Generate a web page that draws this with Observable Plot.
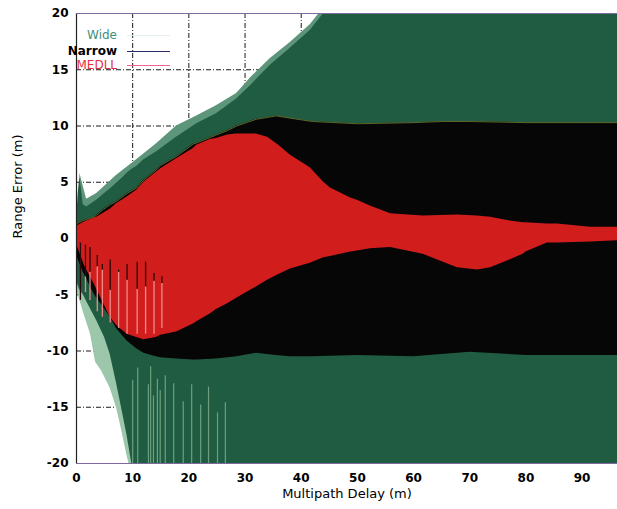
<!DOCTYPE html>
<html>
<head>
<meta charset="utf-8">
<script src="https://cdn.jsdelivr.net/npm/d3@7"></script>
<script src="https://cdn.jsdelivr.net/npm/@observablehq/plot@0.6"></script>
<style>
  html, body { margin: 0; padding: 0; background: #fff; }
  #wrap { position: relative; width: 617px; height: 509px; overflow: hidden; }
  .leg { position: absolute; font-family: "DejaVu Sans", sans-serif; font-size: 12px; font-weight: bold; line-height: 14px; }
  .legline { position: absolute; height: 0; border-top: 1.5px solid; }
</style>
</head>
<body>
<div id="wrap"></div>
<script>
// ---- data ----
const xTicks = [0, 10, 20, 30, 40, 50, 60, 70, 80, 90];
const yTicks = [-20, -15, -10, -5, 0, 5, 10, 15, 20];

// Wide correlator (green) error envelope
const wideX  = [0, 0.3, 0.6, 1.2, 1.8, 3.6, 5.0, 6.0, 7.1, 8.4, 9.0, 10.0, 10.7, 12.0, 14.2, 17.8, 21.4, 24.9, 28.5, 31.0, 34.5, 38.0, 41.6, 44.8, 50, 60, 70, 80, 90, 96.3];
const wideHi = [1.5, 4.0, 5.5, 3.0, 2.8, 3.4, 4.0, 4.4, 4.9, 5.5, 5.8, 6.2, 6.4, 7.0, 7.7, 9.0, 10.2, 11.1, 12.4, 13.6, 15.4, 16.9, 18.5, 20.5, 21, 21, 21, 21, 21, 21];
const wideLo = [-3.8, -4.2, -4.6, -5.0, -5.6, -7.3, -8.8, -10.3, -12.8, -16.0, -17.5, -20.5, -21, -21, -21, -21, -21, -21, -21, -21, -21, -21, -21, -21, -21, -21, -21, -21, -21, -21];
// lighter jagged fringe above the Wide envelope
const wideTopFringeX  = [0.6, 1.8, 3.6, 7.1, 10.7, 14.2, 17.8, 21.4, 24.9, 28.5, 31.0, 34.5, 38.0, 41.6, 44.0, 45];
const wideTopFringeHi = [5.8, 3.5, 4.0, 5.6, 7.0, 8.4, 10.0, 10.9, 11.8, 12.9, 14.3, 16.0, 17.4, 19.0, 20.5, 21];
// lighter outer fringe of the Wide envelope (lower left)
const wideFringeX  = [0, 1.2, 2.5, 3.4, 4.5, 6.0, 7.1, 7.8, 9.0, 9.8, 11, 96.3];
const wideFringeLo = [-4.5, -6.5, -8.5, -11.0, -11.8, -13.3, -15.0, -16.5, -19.3, -21, -21, -21];
// light streaks inside the dark green block: x, top of streak
const streakX   = [10.0, 10.9, 12.8, 13.2, 13.7, 14.4, 14.9, 15.8, 17.3, 19.0, 20.5, 22.1, 23.5, 25.1, 26.5];
const streakTop = [-12.6, -11.5, -13.0, -11.4, -14.0, -12.5, -13.5, -12.2, -12.9, -14.5, -13.0, -14.8, -13.2, -15.5, -14.6];

// Narrow correlator (black) error envelope
const narrowX  = [0, 1.2, 3.1, 3.6, 4.8, 6.0, 7.1, 9.0, 10.7, 12.0, 14.2, 15.0, 17.8, 20.8, 21.4, 24.9, 26.9, 28.5, 32.0, 35.6, 38.0, 42.0, 50, 60, 65, 70, 80, 90, 96.3];
const narrowHi = [1.3, 1.6, 1.9, 2.1, 2.6, 3.0, 3.3, 4.0, 4.5, 5.2, 6.1, 6.5, 7.3, 8.4, 8.5, 9.2, 9.6, 10.0, 10.6, 10.9, 10.7, 10.4, 10.2, 10.3, 10.4, 10.4, 10.3, 10.3, 10.3];
const narrowLo = [-1.5, -3.0, -4.9, -5.3, -6.1, -7.0, -8.0, -9.1, -9.8, -10.2, -10.5, -10.6, -10.7, -10.8, -10.8, -10.7, -10.6, -10.5, -10.2, -10.4, -10.5, -10.5, -10.4, -10.5, -10.3, -10.1, -10.4, -10.4, -10.4];

// MEDLL (red) error envelope
const medllX  = [0, 1.5, 3.1, 3.6, 6.0, 7.1, 9.0, 10.7, 12.0, 14.2, 15.0, 17.8, 20.8, 21.4, 23.8, 24.9, 26.9, 28.5, 32.0, 34.0, 36.0, 38.1, 41.6, 44.0, 45.2, 48.8, 50.0, 52.3, 55.9, 61.7, 67.8, 71.4, 73.7, 76.7, 79.5, 80.0, 83.8, 85.6, 91.5, 96.3];
const medllHi = [1.1, 1.5, 1.8, 1.9, 2.6, 3.1, 3.7, 4.3, 5.0, 5.9, 6.2, 7.1, 8.0, 8.3, 8.8, 8.9, 9.2, 9.3, 9.3, 9.0, 8.3, 7.4, 6.3, 5.0, 4.5, 3.6, 3.4, 2.9, 2.2, 2.0, 2.1, 2.0, 1.9, 1.6, 1.4, 1.4, 1.3, 1.3, 1.0, 1.0];
const medllLo = [-0.5, -2.5, -4.0, -4.5, -7.0, -7.7, -8.5, -8.8, -9.0, -8.8, -8.6, -8.3, -7.6, -7.4, -6.7, -6.3, -5.8, -5.3, -4.3, -3.7, -3.2, -2.7, -2.2, -1.7, -1.6, -1.2, -1.1, -0.9, -0.8, -1.4, -2.6, -2.8, -2.6, -2.0, -1.4, -1.2, -0.4, -0.4, -0.3, -0.2];
// dark / pink spikes running down through the red band at short delays
const spikeX   = [0.7, 1.6, 2.4, 3.7, 4.6, 6.0, 7.5, 9.0, 10.8, 12.3, 13.8, 15.2];
const spikeTop = [-0.4, -0.6, -0.8, -1.5, -2.3, -1.9, -2.8, -2.3, -2.1, -2.1, -3.1, -3.4];
const spikeMid = [-5.5, -3.4, -3.0, -2.5, -2.8, -4.6, -3.0, -3.7, -4.5, -4.3, -3.8, -4.0];
const spikeEnd = [-4.5, -4.8, -5.5, -6.5, -7.0, -7.5, -8.0, -8.5, -8.5, -8.5, -8.5, -8.0];

const seriesNames = ["Wide", "Narrow", "MEDLL"];
const xTitle = "Multipath Delay (m)";
const yTitle = "Range Error (m)";

// ---- build tables ----
const wide = wideX.map((x, i) => ({x, lo: wideLo[i], hi: wideHi[i]}));
const topFringe = wideTopFringeX.map((x, i) => ({x, hi: wideTopFringeHi[i]}));
const fringe = wideFringeX.map((x, i) => ({x, lo: wideFringeLo[i]}));
const streaks = streakX.map((x, i) => ({x, top: streakTop[i]}));
const narrow = narrowX.map((x, i) => ({x, lo: narrowLo[i], hi: narrowHi[i]}));
const medll = medllX.map((x, i) => ({x, lo: medllLo[i], hi: medllHi[i]}));
const spikes = spikeX.map((x, i) => ({x, top: spikeTop[i], mid: spikeMid[i], end: spikeEnd[i]}));

const GREEN = "#1f5c42", LIGHTGREEN = "#9cc7aa", BLACK = "#060606", RED = "#d21d1d";

const chart = Plot.plot({
  width: 617,
  height: 509,
  marginLeft: 76,
  marginRight: 0,
  marginTop: 13,
  marginBottom: 46,
  x: {domain: [0, 96.3]},
  y: {domain: [-20, 20]},
  style: {fontFamily: "DejaVu Sans, sans-serif", fontSize: "12px", fontWeight: "bold", color: "#000", background: "#fff", overflow: "visible"},
  marks: [
    Plot.gridX(xTicks.filter(d => d > 0), {stroke: "#000", strokeOpacity: 0.9, strokeDasharray: "5,2,1,2"}),
    Plot.gridY(yTicks.filter(d => d > -20 && d < 20), {stroke: "#000", strokeOpacity: 0.9, strokeDasharray: "5,2,1,2"}),
    Plot.areaY(fringe, {x: "x", y1: 0, y2: "lo", fill: LIGHTGREEN, clip: true}),
    Plot.areaY(topFringe, {x: "x", y1: 0, y2: "hi", fill: "#5d957a", clip: true}),
    Plot.areaY(wide, {x: "x", y1: "lo", y2: "hi", fill: GREEN, clip: true}),
    Plot.ruleX(streaks, {x: "x", y1: "top", y2: -20, stroke: "#7fb08e", strokeWidth: 1.2, strokeOpacity: 0.8, clip: true}),
    Plot.areaY(narrow, {x: "x", y1: "lo", y2: "hi", fill: BLACK, clip: true}),
    Plot.lineY(narrow, {x: "x", y: "hi", stroke: "#8f9a3a", strokeWidth: 0.8, strokeOpacity: 0.8, clip: true}),
    Plot.areaY(medll, {x: "x", y1: "lo", y2: "hi", fill: RED, clip: true}),
    Plot.ruleX(spikes, {x: "x", y1: "mid", y2: "end", stroke: "#ee8c8c", strokeWidth: 1.3, clip: true}),
    Plot.ruleX(spikes, {x: "x", y1: "top", y2: "mid", stroke: "#2a0a0a", strokeWidth: 1.3, clip: true}),
    Plot.ruleX([0], {stroke: "#222", strokeWidth: 1.2}),
    Plot.ruleY([20, -20], {stroke: "#7d6aa0", strokeWidth: 1.2}),
    Plot.axisX({ticks: xTicks, tickSize: 0, tickPadding: 10, label: null, tickFormat: d => String(d)}),
    Plot.axisY({ticks: yTicks, tickSize: 0, tickPadding: 8, label: null, tickFormat: d => String(d)}),
    Plot.text([xTitle], {frameAnchor: "bottom", dy: 34, text: d => d, fontWeight: "normal", fontSize: 13}),
    Plot.text([yTitle], {frameAnchor: "left", dx: -59, rotate: -90, text: d => d, fontWeight: "normal", fontSize: 13})
  ]
});

const wrap = document.getElementById("wrap");
wrap.appendChild(chart);

// legend (inside plot, top-left)
const legColors = {Wide: "#3f8f77", Narrow: "#000", MEDLL: "#e8303c"};
const legLines = {Wide: "#e4f1ea", Narrow: "#2a2a6a", MEDLL: "#f0648e"};
const legY = {Wide: 35, Narrow: 50.5, MEDLL: 64.5};
seriesNames.forEach(name => {
  const t = document.createElement("div");
  t.className = "leg";
  t.textContent = name;
  t.style.color = legColors[name];
  t.style.right = (617 - 117) + "px";
  t.style.top = (legY[name] - 7) + "px";
  if (name !== "Narrow") t.style.fontWeight = "normal";
  wrap.appendChild(t);
  const l = document.createElement("div");
  l.className = "legline";
  l.style.left = "127px";
  l.style.width = "43px";
  l.style.top = legY[name] + "px";
  l.style.borderTopColor = legLines[name];
  wrap.appendChild(l);
});
</script>
</body>
</html>
